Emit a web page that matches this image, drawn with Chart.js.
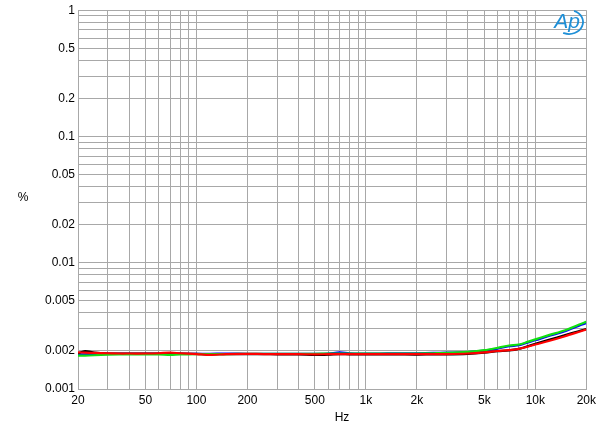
<!DOCTYPE html>
<html>
<head>
<meta charset="utf-8">
<script src="https://cdn.jsdelivr.net/npm/chart.js@4/dist/chart.umd.min.js"></script>
<style>
html,body{margin:0;padding:0;background:#fff;}
#wrap{position:relative;width:600px;height:432px;}
</style>
</head>
<body>
<div id="wrap"><canvas id="c" width="600" height="432"></canvas></div>
<script>
// Frequencies (Hz)
const freqs = [20, 22, 25, 30, 35, 40, 50, 60, 70, 80, 100, 120, 150, 200, 250, 300, 400, 500, 600, 700, 800, 1000, 1200, 1500, 2000, 2500, 3000, 4000, 5000, 6000, 7000, 8000, 9000, 10000, 12000, 15000, 18000, 20000];

// THD+N (%) series
const redVals   = [0.00195,0.00194,0.00193,0.00192,0.00191,0.00191,0.00191,0.00192,0.00194,0.00192,0.00189,0.00186,0.00189,0.00190,0.00189,0.00189,0.00189,0.00188,0.00189,0.00189,0.00189,0.00189,0.00189,0.00189,0.00189,0.00189,0.00189,0.00191,0.00195,0.00200,0.00203,0.00208,0.00216,0.00225,0.00240,0.00262,0.00283,0.00296];
const blackVals = [0.00192,0.00200,0.00194,0.00191,0.00191,0.00191,0.00191,0.00191,0.00191,0.00191,0.00190,0.00188,0.00189,0.00189,0.00189,0.00188,0.00188,0.00186,0.00187,0.00189,0.00188,0.00188,0.00188,0.00188,0.00187,0.00188,0.00188,0.00190,0.00194,0.00199,0.00202,0.00208,0.00218,0.00228,0.00245,0.00267,0.00287,0.00298];
const greenVals = [0.00184,0.00184,0.00185,0.00187,0.00188,0.00188,0.00188,0.00188,0.00186,0.00188,0.00189,0.00189,0.00189,0.00190,0.00190,0.00190,0.00190,0.00190,0.00191,0.00191,0.00191,0.00191,0.00191,0.00191,0.00191,0.00192,0.00193,0.00197,0.00203,0.00212,0.00221,0.00225,0.00236,0.00247,0.00267,0.00292,0.00323,0.00340];
const blueVals  = [0.00188,0.00188,0.00189,0.00190,0.00190,0.00190,0.00190,0.00190,0.00190,0.00190,0.00190,0.00190,0.00191,0.00190,0.00190,0.00190,0.00190,0.00190,0.00191,0.00195,0.00192,0.00191,0.00191,0.00192,0.00192,0.00193,0.00194,0.00196,0.00201,0.00209,0.00218,0.00222,0.00233,0.00243,0.00263,0.00287,0.00316,0.00332];

// Axis ticks
const xGrid = [20,30,40,50,60,70,80,90,100,200,300,400,500,600,700,800,900,1000,2000,3000,4000,5000,6000,7000,8000,9000,10000,20000];
const xLabelVals = [20,50,100,200,500,1000,2000,5000,10000,20000];
const xLabels = ['20','50','100','200','500','1k','2k','5k','10k','20k'];
const yGrid = [0.001,0.002,0.003,0.004,0.005,0.006,0.007,0.008,0.009,0.01,0.02,0.03,0.04,0.05,0.06,0.07,0.08,0.09,0.1,0.2,0.3,0.4,0.5,0.6,0.7,0.8,0.9,1];
const yLabelVals = [0.001,0.002,0.005,0.01,0.02,0.05,0.1,0.2,0.5,1];
const yLabels = ['0.001','0.002','0.005','0.01','0.02','0.05','0.1','0.2','0.5','1'];

const toXY = vals => freqs.map((f,i)=>({x:f,y:vals[i]}));
const near = (a,b) => Math.abs(a-b) <= b*1e-6;

const FONT = 'Liberation Sans, Arial, sans-serif';

const extras = {
  id:'extras',
  afterDraw(chart){
    const ctx = chart.ctx;
    ctx.save();
    ctx.fillStyle = '#000';
    ctx.font = '12px ' + FONT;
    ctx.textAlign = 'center';
    ctx.textBaseline = 'middle';
    ctx.fillText('%', 23, 198);
    ctx.fillText('Hz', 342, 418);
    // AP logo
    ctx.fillStyle = '#1f8fd6';
    ctx.font = 'italic 21px ' + FONT;
    ctx.fillText('Ap', 567, 22);
    ctx.strokeStyle = '#1f8fd6';
    ctx.lineWidth = 1.8;
    ctx.beginPath();
    ctx.ellipse(569, 22, 14, 12, 0, -1.2, 2.0);
    ctx.stroke();
    ctx.restore();
  }
};

new Chart(document.getElementById('c'), {
  type:'line',
  data:{
    datasets:[
      {label:'red', data:toXY(redVals), borderColor:'#ff0000'},
      {label:'green', data:toXY(greenVals), borderColor:'#10e010'},
      {label:'black', data:toXY(blackVals), borderColor:'#000000'},
      {label:'blue', data:toXY(blueVals), borderColor:'#0000ff'}
    ]
  },
  options:{
    responsive:false,
    animation:false,
    devicePixelRatio:1,
    layout:{padding:{left:0,right:13,top:9,bottom:0}},
    elements:{
      line:{borderWidth:2.2, tension:0.3, fill:false},
      point:{radius:0}
    },
    plugins:{legend:{display:false}, tooltip:{enabled:false}},
    scales:{
      x:{
        type:'logarithmic', min:20, max:20000,
        afterBuildTicks(s){ s.ticks = xGrid.map(v=>({value:v})); },
        afterFit(s){ s.height = 43; },
        ticks:{
          autoSkip:false, maxRotation:0, padding:4,
          color:'#000', font:{family:FONT, size:12},
          callback(v){ const i = xLabelVals.findIndex(t=>near(v,t)); return i>=0 ? xLabels[i] : ''; }
        },
        grid:{color:'#a8a8a8', lineWidth:1, drawTicks:false},
        border:{color:'#a8a8a8'}
      },
      y:{
        type:'logarithmic', min:0.001, max:1,
        afterBuildTicks(s){ s.ticks = yGrid.map(v=>({value:v})); },
        afterFit(s){ s.width = 78; },
        ticks:{
          autoSkip:false, padding:3,
          color:'#000', font:{family:FONT, size:12},
          callback(v){ const i = yLabelVals.findIndex(t=>near(v,t)); return i>=0 ? yLabels[i] : ''; }
        },
        grid:{color:'#a8a8a8', lineWidth:1, drawTicks:false},
        border:{color:'#a8a8a8'}
      }
    }
  },
  plugins:[extras]
});
</script>
</body>
</html>
